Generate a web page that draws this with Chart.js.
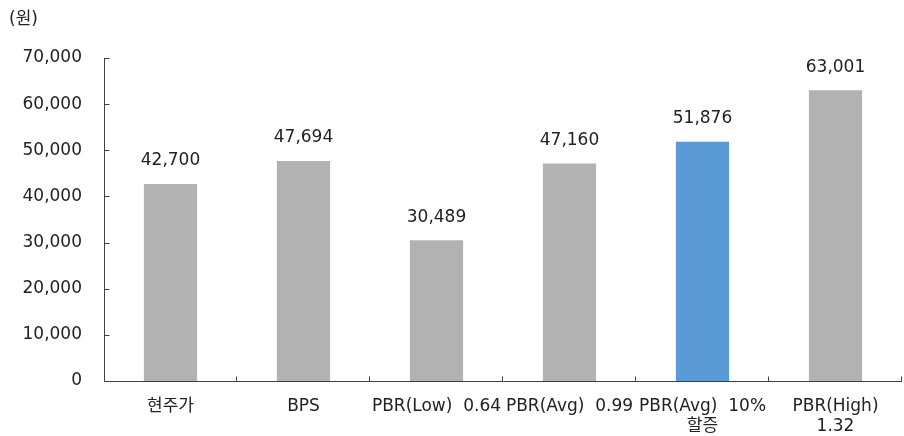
<!DOCTYPE html>
<html>
<head>
<meta charset="utf-8">
<script src="https://cdn.jsdelivr.net/npm/chart.js@4/dist/chart.umd.min.js"></script>
<style>
  html, body { margin: 0; padding: 0; background: #fff; }
  #wrap { width: 904px; height: 436px; }
</style>
</head>
<body>
<div id="wrap"><canvas id="c" width="904" height="436"></canvas></div>
<script>
// Valuation summary (unit: KRW)
const categories = [
  '현주가',
  'BPS',
  'PBR(Low)  0.64',
  'PBR(Avg)  0.99',
  ['PBR(Avg)  10%', '할증'],
  ['PBR(High)', '1.32']
];
const values = [42700, 47694, 30489, 47160, 51876, 63001];
const barColors = ['#b2b2b2', '#b2b2b2', '#b2b2b2', '#b2b2b2', '#5b9bd5', '#b2b2b2'];
const unitLabel = '(원)';

const FONT = '"DejaVu Sans", "Noto Sans CJK KR", sans-serif';
const AXIS = '#404040';

// Value labels, unit label, axis lines and inward tick marks
const decorations = {
  id: 'decorations',
  afterDatasetsDraw(chart) {
    const ctx = chart.ctx;
    const meta = chart.getDatasetMeta(0);
    const ys = chart.scales.y;
    const area = chart.chartArea;
    ctx.save();
    ctx.font = '17px ' + FONT;
    ctx.fillStyle = '#222';
    ctx.textAlign = 'center';
    ctx.textBaseline = 'middle';
    meta.data.forEach((bar, i) => {
      ctx.fillText(values[i].toLocaleString('en-US'), bar.x, bar.y - 23);
    });
    ctx.textAlign = 'left';
    ctx.fillText(unitLabel, 9, 20);

    ctx.strokeStyle = AXIS;
    ctx.lineWidth = 1;
    ctx.beginPath();
    const x0 = Math.round(area.left) + 0.5;
    const yb = Math.round(area.bottom) + 0.5;
    ctx.moveTo(x0, area.top);
    ctx.lineTo(x0, yb);
    ctx.lineTo(area.right, yb);
    // y ticks pointing into the plot
    ys.ticks.forEach(t => {
      const py = Math.round(ys.getPixelForValue(t.value)) + 0.5;
      ctx.moveTo(x0, py);
      ctx.lineTo(x0 + 5, py);
    });
    // x ticks at category boundaries
    const step = (area.right - area.left) / categories.length;
    for (let i = 1; i <= categories.length; i++) {
      const px = Math.round(area.left + step * i) - 0.5;
      ctx.moveTo(px, yb);
      ctx.lineTo(px, yb - 5);
    }
    ctx.stroke();
    ctx.restore();
  }
};

new Chart(document.getElementById('c'), {
  type: 'bar',
  data: {
    labels: categories,
    datasets: [{
      data: values,
      backgroundColor: barColors,
      borderWidth: 0,
      categoryPercentage: 1.0,
      barPercentage: 0.4
    }]
  },
  options: {
    responsive: false,
    animation: false,
    devicePixelRatio: 1,
    layout: { padding: { top: 58, right: 2, left: 0, bottom: 0 } },
    plugins: { legend: { display: false }, tooltip: { enabled: false } },
    scales: {
      x: {
        border: { display: false },
        grid: { display: false },
        ticks: {
          color: '#222',
          font: { family: FONT, size: 17, lineHeight: 1.15 },
          padding: 8,
          maxRotation: 0,
          autoSkip: false
        },
        afterFit(scale) { scale.height = 55; }
      },
      y: {
        min: 0,
        max: 70000,
        border: { display: false },
        grid: { display: false },
        ticks: {
          stepSize: 10000,
          color: '#222',
          padding: 14,
          font: { family: FONT, size: 17 },
          callback: v => v.toLocaleString('en-US')
        },
        afterFit(scale) { scale.width = 104; }
      }
    }
  },
  plugins: [decorations]
});
</script>
</body>
</html>
